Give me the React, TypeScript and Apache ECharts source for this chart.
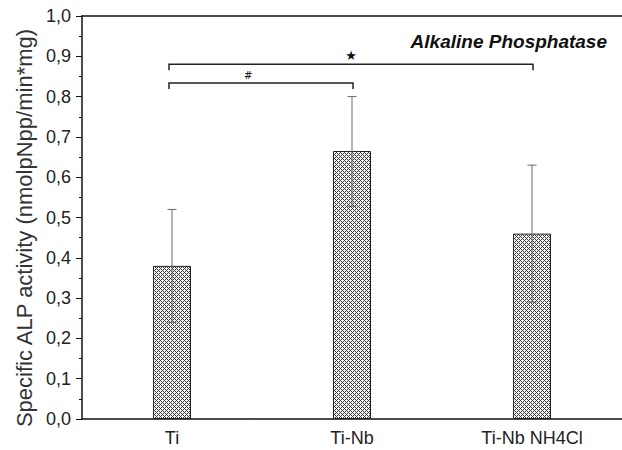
import React, { useEffect, useRef } from "react";
import * as echarts from "echarts";

const categories = ["Ti", "Ti-Nb", "Ti-Nb NH4Cl"];
const means = [0.38, 0.665, 0.46];
const errLow = [0.24, 0.528, 0.29];
const errHigh = [0.52, 0.80, 0.63];
// brackets: [startIndex, endIndex, yValue, label, labelFraction]
const brackets: [number, number, number, string, number][] = [
  [0, 2, 0.88, "★", 0.5],
  [0, 1, 0.834, "#", 0.43],
];
const yTicks = { min: 0, max: 1, interval: 0.1 };
const title = "Alkaline Phosphatase";
const yName = "Specific ALP activity (nmolpNpp/min*mg)";

function makePattern(): string {
  const c = document.createElement("canvas");
  c.width = 4;
  c.height = 4;
  const ctx = c.getContext("2d")!;
  ctx.fillStyle = "#f4f4f4";
  ctx.fillRect(0, 0, 4, 4);
  ctx.fillStyle = "#3c3c3c";
  for (let x = 0; x < 4; x++) {
    for (let y = 0; y < 4; y++) {
      if ((x + y) % 4 === 0 || (x - y + 4) % 4 === 0) ctx.fillRect(x, y, 1, 1);
    }
  }
  return c.toDataURL();
}

export default function App() {
  const ref = useRef<HTMLDivElement>(null);
  useEffect(() => {
    document.body.style.margin = "0";
    const chart = echarts.init(ref.current!, null, { renderer: "svg" });
    const pattern = makePattern();
    const font = "Liberation Sans";
    chart.setOption({
      animation: false,
      backgroundColor: "#ffffff",
      grid: { left: 82, right: -7, top: 16, bottom: 31, containLabel: false },
      title: {
        text: title,
        right: 10,
        top: 27,
        textStyle: {
          fontFamily: font,
          fontStyle: "italic",
          fontWeight: "bold",
          fontSize: 19,
          color: "#111",
        },
      },
      graphic: [
        {
          type: "text",
          x: 24,
          y: 228,
          rotation: Math.PI / 2,
          style: {
            text: yName,
            fontFamily: font,
            fontSize: 22,
            fill: "#333",
            align: "center",
            verticalAlign: "middle",
          },
        },
      ],
      xAxis: [
        {
          type: "category",
          data: categories,
          axisLine: { lineStyle: { color: "#111", width: 1.5 } },
          axisTick: { alignWithLabel: true, length: 5, lineStyle: { color: "#111" } },
          axisLabel: { fontFamily: font, fontSize: 18, color: "#222", margin: 10 },
        },
        {
          type: "category",
          data: categories,
          position: "top",
          axisLine: { show: true, lineStyle: { color: "#111", width: 1.5 } },
          axisTick: { show: false },
          axisLabel: { show: false },
        },
      ],
      yAxis: {
        type: "value",
        min: yTicks.min,
        max: yTicks.max,
        interval: yTicks.interval,
        axisLine: { show: true, lineStyle: { color: "#111", width: 1.5 } },
        axisTick: { show: true, length: 6, lineStyle: { color: "#111" } },
        minorTick: { show: true, splitNumber: 2, length: 3, lineStyle: { color: "#111" } },
        splitLine: { show: false },
        axisLabel: {
          fontFamily: font,
          fontSize: 18,
          color: "#222",
          margin: 11,
          formatter: (v: number) => v.toFixed(1).replace(".", ","),
        },
      },
      series: [
        {
          type: "bar",
          data: means,
          barWidth: 38,
          itemStyle: {
            color: { image: pattern, repeat: "repeat" },
            borderColor: "#222",
            borderWidth: 1,
          },
        },
        {
          type: "custom",
          data: categories.map((_, i) => [i, errLow[i], errHigh[i]]),
          renderItem: (params: any, api: any) => {
            const x = api.coord([api.value(0), 0])[0];
            const yl = api.coord([api.value(0), api.value(1)])[1];
            const yh = api.coord([api.value(0), api.value(2)])[1];
            const style = { stroke: "#6a6a6a", lineWidth: 1 };
            return {
              type: "group",
              children: [
                { type: "line", shape: { x1: x, y1: yl, x2: x, y2: yh }, style },
                { type: "line", shape: { x1: x - 4.5, y1: yh, x2: x + 4.5, y2: yh }, style },
                { type: "line", shape: { x1: x - 4.5, y1: yl, x2: x + 4.5, y2: yl }, style },
              ],
            };
          },
          z: 5,
        },
        {
          type: "custom",
          data: brackets.map((b) => [b[0], b[1], b[2], b[4]]),
          renderItem: (params: any, api: any) => {
            const b = brackets[params.dataIndex];
            const x0 = api.coord([api.value(0), api.value(2)])[0] - 3;
            const x1 = api.coord([api.value(1), api.value(2)])[0] + 1;
            const y = api.coord([api.value(0), api.value(2)])[1];
            const xm = x0 + (x1 - x0) * api.value(3);
            const style = { stroke: "#222", lineWidth: 1.5, fill: "none" };
            return {
              type: "group",
              children: [
                {
                  type: "polyline",
                  shape: { points: [[x0, y + 6], [x0, y], [x1, y], [x1, y + 6]] },
                  style,
                },
                {
                  type: "text",
                  x: xm,
                  y: y - 2,
                  style: {
                    text: b[3],
                    fontSize: b[3] === "#" ? 10 : 13,
                    fontFamily: "DejaVu Sans",
                    fill: "#111",
                    align: "center",
                    verticalAlign: "bottom",
                  },
                },
              ],
            };
          },
          z: 6,
        },
      ],
    });
    return () => chart.dispose();
  }, []);
  return <div ref={ref} style={{ width: 622, height: 450 }} />;
}
